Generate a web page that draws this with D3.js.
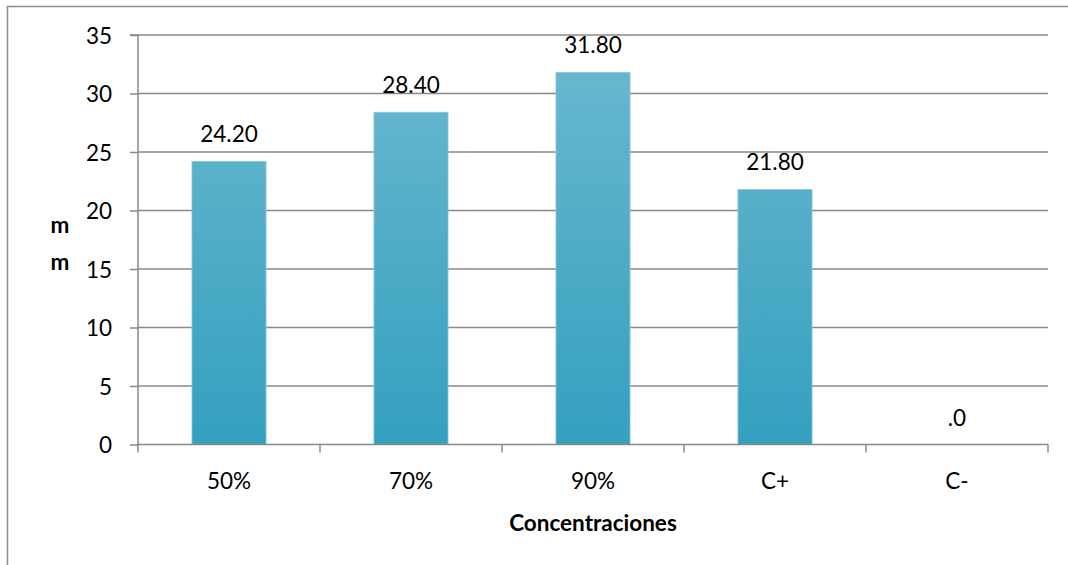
<!DOCTYPE html>
<html><head><meta charset="utf-8">
<script src="https://cdn.jsdelivr.net/npm/d3@7"></script>
<style>body{margin:0;background:#fff}svg{display:block}text{font-family:Lato,"Open Sans",sans-serif;fill:#000}</style>
</head><body><div id="c"></div>
<script>
const categories = ["50%","70%","90%","C+","C-"];
const values = [24.2, 28.4, 31.8, 21.8, 0];
const valueLabels = ["24.20","28.40","31.80","21.80",".0"];
const yTicks = [0,5,10,15,20,25,30,35];
const xTitle = "Concentraciones";
const yTitle = ["m","m"];

const W=1068,H=565,FS="22.5px";
const svg=d3.select("#c").append("svg").attr("width",W).attr("height",H);
const defs=svg.append("defs");
const g=defs.append("linearGradient").attr("id","bg").attr("gradientUnits","userSpaceOnUse");
// outer border
svg.append("path").attr("d","M7.5,565 L7.5,6.5 L1068,6.5").attr("fill","none").attr("stroke","#8c8c8c").attr("stroke-width",1.5);

const L=138,R=1048,T=35,B=444.5;
const x=d3.scaleBand().domain(categories).range([L,R]).paddingInner(0.593).paddingOuter(0.2965);
const y=d3.scaleLinear().domain([0,35]).range([B,T]);
g.attr("x1",0).attr("y1",y(35)).attr("x2",0).attr("y2",y(0));
g.append("stop").attr("offset","0%").attr("stop-color","#6cb9d0");
g.append("stop").attr("offset","100%").attr("stop-color","#34a0bf");

const grid="#898989";
svg.append("g").selectAll("line").data(yTicks.filter(d=>d>0)).join("line")
 .attr("x1",L).attr("x2",R).attr("y1",d=>y(d)).attr("y2",d=>y(d)).attr("stroke",grid).attr("stroke-width",1.5);

svg.append("g").selectAll("rect").data(values).join("rect")
 .attr("x",(d,i)=>x(categories[i])).attr("width",x.bandwidth())
 .attr("y",d=>y(d)).attr("height",d=>B-y(d))
 .attr("fill","url(#bg)").attr("stroke","#8fc7da").attr("stroke-width",0.8);

svg.append("g").selectAll("text").data(values).join("text")
 .attr("x",(d,i)=>x(categories[i])+x.bandwidth()/2).attr("y",d=>y(d)-19)
 .attr("text-anchor","middle").style("font-size",FS).text((d,i)=>valueLabels[i]);

const ya=svg.append("g").attr("transform",`translate(${L},0)`)
 .call(d3.axisLeft(y).tickValues(yTicks).tickSize(8).tickPadding(18).tickFormat(d3.format("d")));
ya.select(".domain").attr("stroke",grid).attr("stroke-width",1.5).attr("d",`M-8,${T}H0V${B}`);
ya.selectAll(".tick line").attr("stroke",grid).attr("stroke-width",1.5);
ya.selectAll(".tick text").style("font-size",FS).style("font-family","Lato,sans-serif").attr("fill","#000").attr("dy","0.36em");

const xb=d3.scaleLinear().domain([0,categories.length]).range([L,R]);
const xa=svg.append("g").attr("transform",`translate(0,${B})`);
xa.append("line").attr("x1",L).attr("x2",R).attr("stroke",grid).attr("stroke-width",1.5);
xa.selectAll("line.t").data(d3.range(categories.length+1)).join("line").attr("class","t")
 .attr("x1",d=>xb(d)).attr("x2",d=>xb(d)).attr("y1",0).attr("y2",8).attr("stroke",grid).attr("stroke-width",1.5);
xa.selectAll("text").data(categories).join("text")
 .attr("x",d=>x(d)+x.bandwidth()/2).attr("y",44).attr("text-anchor","middle").style("font-size",FS).text(d=>d);

svg.append("text").attr("x",(L+R)/2).attr("y",531).attr("text-anchor","middle")
 .style("font-size",FS).style("font-weight","bold").text(xTitle);
svg.append("g").selectAll("text").data(yTitle).join("text")
 .attr("x",60).attr("y",(d,i)=>233+i*37).attr("text-anchor","middle")
 .style("font-size",FS).style("font-weight","bold").text(d=>d);
</script></body></html>
